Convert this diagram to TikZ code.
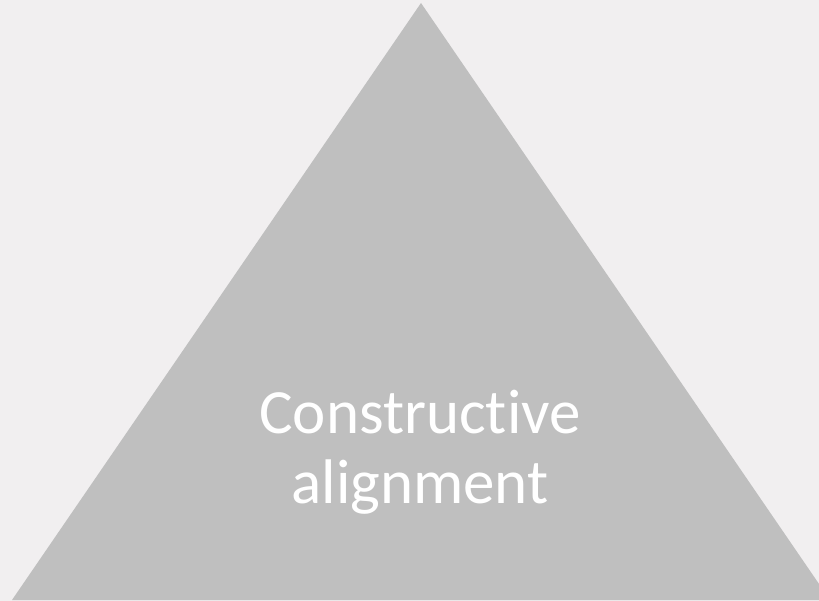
\documentclass[tikz,border=0pt]{standalone}
\usepackage{fontspec}
\setmainfont[Ligatures={NoCommon,NoRequired}]{Carlito}
\usepackage{xcolor}
\definecolor{paper}{HTML}{F1EFF0}
\definecolor{pyramid}{HTML}{BFBFBF}

\begin{document}
\begin{tikzpicture}[x=1pt,y=-1pt]
		\useasboundingbox (0,0) rectangle (819,601);
		\fill[paper] (0,0) rectangle (819,601);

		\coordinate(A) at (421,3);
		\coordinate(B) at (12,600);
		\coordinate(C) at (830,600);

		\begin{scope}
			\clip (0,0) rectangle (819,600);
			\fill[pyramid] (A) -- (B) -- (C) -- cycle;
		\end{scope}

		\node(L)[anchor=base, align=center, text=white, inner sep=0pt,
			font=\fontsize{63}{70}\selectfont] at (420,503){Constructive\\alignment};
	\end{tikzpicture}
\end{document}
